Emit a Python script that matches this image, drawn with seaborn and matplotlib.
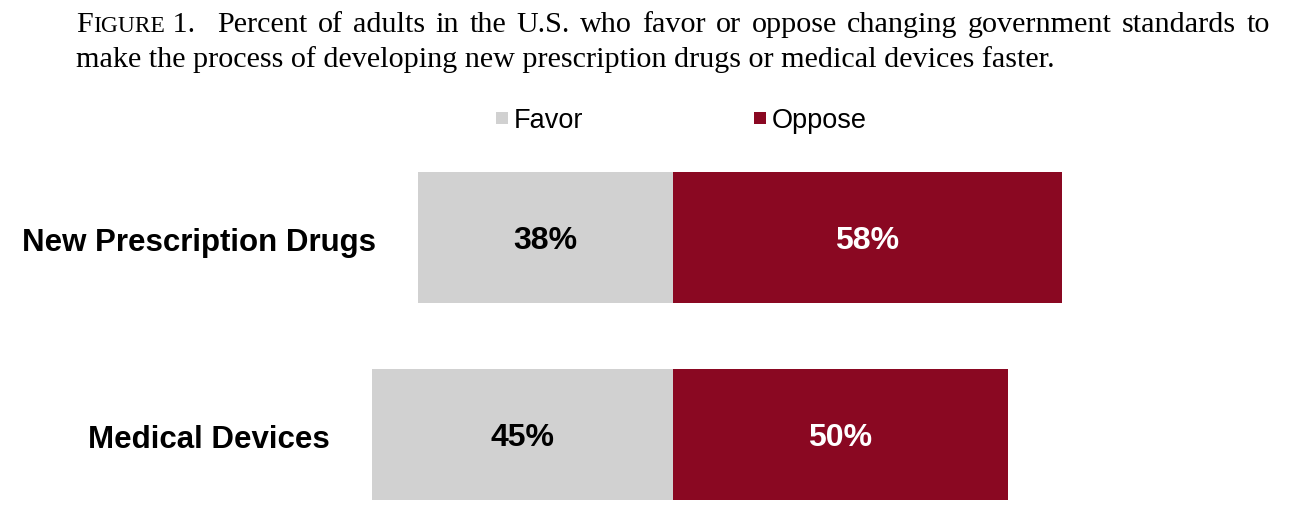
import numpy as np
import pandas as pd
import seaborn as sns
import matplotlib.pyplot as plt
from matplotlib.patches import Patch

categories = ['New Prescription Drugs', 'Medical Devices']
favor = [38, 45]
oppose = [58, 50]
series_names = ['Favor', 'Oppose']

title_line1 = 'Percent of adults in the U.S. who favor or oppose changing government standards to'
title_line2 = 'make the process of developing new prescription drugs or medical devices faster.'

gray = '#d1d1d1'
red = '#8a0822'

sns.set_style('white')
plt.rcParams['font.family'] = ['Liberation Sans', 'DejaVu Sans']
plt.rcParams['text.color'] = 'black'

df = pd.DataFrame({'question': categories,
                   'Favor': -np.array(favor),
                   'Oppose': np.array(oppose)})

fig = plt.figure(figsize=(12.9, 5.2), dpi=100)
ax = fig.add_axes([0, 0, 1, 1])

sns.barplot(data=df, y='question', x='Favor', color=gray, width=0.665,
            saturation=1, linewidth=0, ax=ax)
sns.barplot(data=df, y='question', x='Oppose', color=red, width=0.665,
            saturation=1, linewidth=0, ax=ax)

ax.set_xlim(-100.45, 92.09)
ax.set_ylim(1.434, -1.2056)
ax.axis('off')

for i, cat in enumerate(categories):
    ax.text(-favor[i] / 2, i, f'{favor[i]}%', ha='center', va='center_baseline',
            fontsize=23, fontweight='bold', color='black')
    ax.text(oppose[i] / 2, i, f'{oppose[i]}%', ha='center', va='center_baseline',
            fontsize=23, fontweight='bold', color='white')
    ax.text(-favor[i] - 6.3, i + 0.01, cat, ha='right', va='center_baseline',
            fontsize=22.5, fontweight='bold', color='black')

handles = [Patch(facecolor=gray, edgecolor='none'), Patch(facecolor=red, edgecolor='none')]
leg = fig.legend(handles, series_names, loc='center', bbox_to_anchor=(0.5283, 0.767),
                 ncol=2, frameon=False, fontsize=19.5, handlelength=0.44, handleheight=0.44,
                 handletextpad=0.22, columnspacing=6.3)
for p in leg.get_patches():
    p.set_height(8.6)
    p.set_y(p.get_y() + 1.0)

# title, serif, small caps "FIGURE", first line justified
W, H = 1290, 520
renderer = fig.canvas.get_renderer()
tsize = 21.7
serif = ['Liberation Serif', 'DejaVu Serif']


def put(x, y, s, size):
    t = fig.text(x / W, 1 - y / H, s, fontsize=size, family=serif,
                 ha='left', va='baseline', color='black')
    return t, t.get_window_extent(renderer).width


def measure(s, size):
    t, w = put(0, 0, s, size)
    t.remove()
    return w


left, right = 76, 1270
words = title_line1.split(' ')
head_w = measure('F', tsize) + measure('IGURE', tsize * 0.78) + measure(' 1.', tsize)
word_w = [measure(w, tsize) for w in words]
gaps = len(words) + 1.2
gap = (right - left - head_w - sum(word_w)) / gaps

x = left
y1 = 32
for s, size in [('F', tsize), ('IGURE', tsize * 0.78), (' 1.', tsize)]:
    _, w = put(x, y1, s, size)
    x += w
x += gap * 2.2
for w_s, w_w in zip(words, word_w):
    put(x, y1, w_s, tsize)
    x += w_w + gap

put(left, 67, title_line2, tsize)

fig.savefig('out.png', dpi=100)
